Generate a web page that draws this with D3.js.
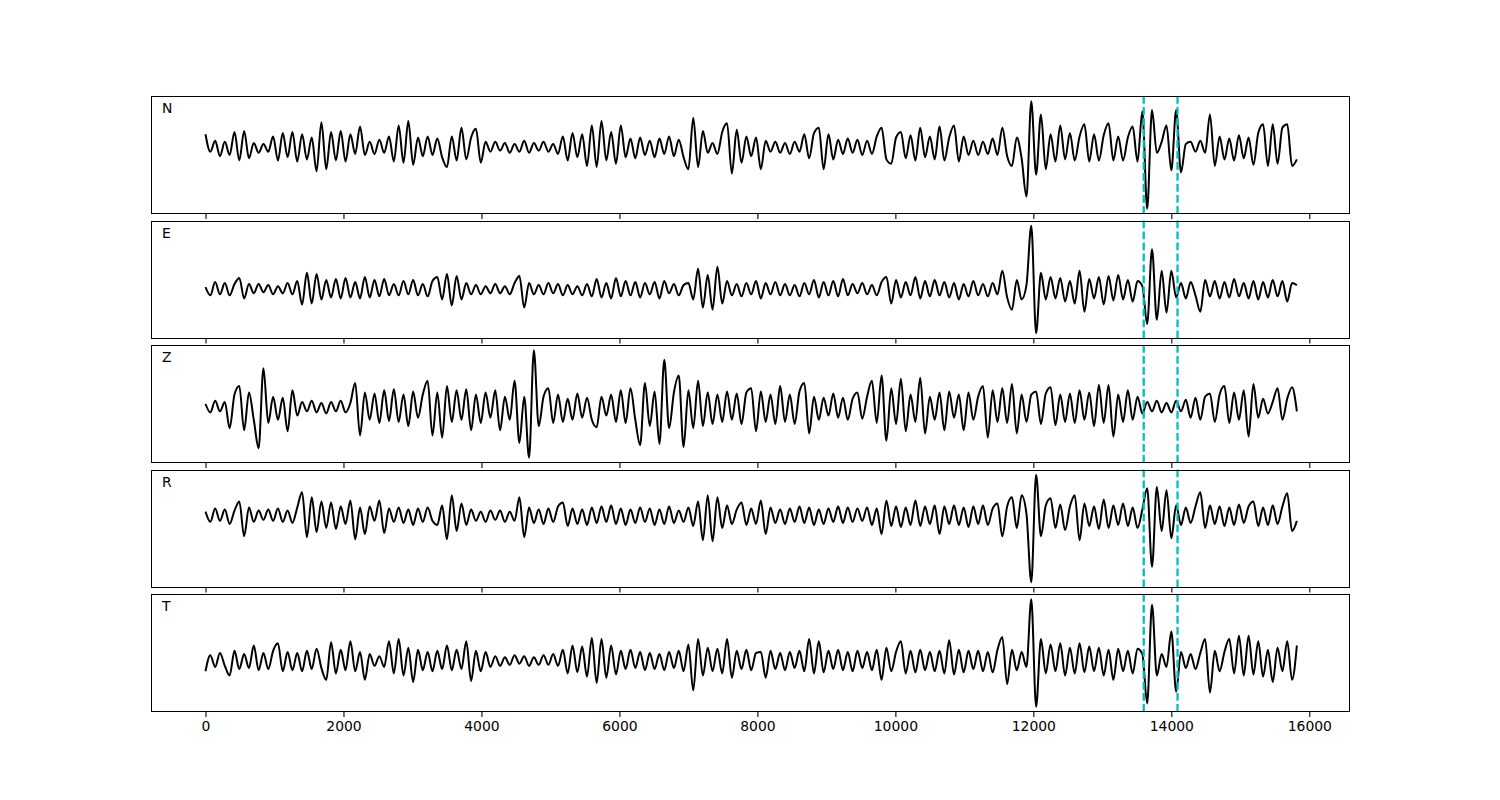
<!DOCTYPE html>
<html><head><meta charset="utf-8">
<script src="https://cdn.jsdelivr.net/npm/d3@7"></script>
<style>body{margin:0;background:#fff} svg{display:block}</style>
</head><body>
<svg id="chart" width="1500" height="800"></svg>
<script>
// ---- data ----
const componentNames = ["N", "E", "Z", "R", "T"];
const sampleStep = 70;             // sample interval (x units)
const pickTimes = [13600, 14090];  // dashed markers
const xTickValues = [0, 2000, 4000, 6000, 8000, 10000, 12000, 14000, 16000];

const traceN = [
 12,-4,6,-8,5,-7,14,-12,15,-10,
 4,-5,3,-4,10,-12,13,-9,14,-13,
 12,-11,9,-22,23,-20,14,-12,15,-13,
 12,-6,19,-7,5,-6,7,-5,10,-13,
 20,-14,24,-16,9,-8,10,-7,8,-9,
 -18,10,-12,18,-11,9,17,-14,5,-4,
 5,-3,4,-5,3,-4,6,-5,4,-3,
 5,-4,3,-6,10,-12,13,-9,12,-17,
 20,-18,24,-12,14,-15,20,-9,8,-10,
 9,-7,6,-9,8,-6,10,-8,7,-9,
 -20,27,-18,15,-5,4,-6,14,22,-24,
 16,-14,10,-8,9,-20,6,-4,5,-5,
 4,-6,5,-4,12,-10,13,18,-20,12,
 -11,7,-6,8,-5,7,-7,6,-6,10,
 18,-11,-15,9,14,-10,11,-12,18,-9,
 10,-11,19,-12,9,20,-13,10,-7,6,
 -7,5,-6,8,-7,18,-8,-17,9,-10,
 -45,42,-25,30,-20,12,-13,20,-11,13,
 -12,10,21,-13,12,-12,11,22,-12,10,
 -12,9,19,-13,33,-56,34,-5,5,20,
 -21,34,-23,3,5,-4,6,-5,30,-17,
 10,-11,8,-12,11,-10,9,-16,13,21,
 -17,21,-15,18,21,-17,-11
];
const traceE = [
 2,-6,7,-5,6,-6,5,11,-9,5,
 -4,5,-3,4,-5,3,-4,6,-5,8,
 -15,16,-14,15,-10,9,-8,10,-9,11,
 -8,7,-9,12,-8,9,-7,10,-6,5,
 -6,8,-5,9,-6,5,-7,8,12,-10,
 15,-16,13,-10,6,-5,4,-5,3,-4,
 5,-4,3,-5,6,13,-18,6,-5,4,
 -5,6,-4,5,-6,4,-5,3,-6,5,
 -7,10,-8,6,-9,11,-7,8,-6,7,
 -8,6,-5,7,-9,8,-4,5,-6,4,
 6,-10,20,-18,14,-20,22,-14,8,-6,
 5,-7,6,-5,8,-9,6,-5,7,-6,
 5,-6,4,-7,6,-5,9,-8,7,-6,
 8,-7,10,-6,5,-4,6,-5,4,-6,
 7,12,-14,9,-8,7,-6,12,-9,8,
 -7,9,-6,7,-8,6,-10,5,-7,8,
 -6,5,-7,6,-5,18,-8,-20,9,-10,
 4,62,-43,16,-10,12,-9,11,-12,8,
 -14,18,-22,10,-9,12,-15,13,-11,14,
 -10,9,-12,8,3,-34,39,-30,18,-23,
 18,-8,6,-9,7,-6,-22,9,-7,8,
 -9,7,-8,10,-7,6,-9,8,-10,7,
 -8,9,-7,8,-12,6,4
];
const traceZ = [
 3,-5,6,-4,5,-20,12,20,-22,14,
 -12,-39,37,-15,10,-12,9,-23,16,-8,
 5,-4,6,-5,4,-6,5,-4,6,-5,
 4,23,-27,14,-12,13,-15,16,-13,17,
 -14,12,-18,15,-10,12,25,-27,14,-29,
 20,-14,16,-12,17,-22,12,-15,14,-10,
 16,-22,10,-12,25,-34,10,-48,54,-18,
 10,18,-15,12,-14,8,-12,13,-10,9,
 -12,-19,10,-8,12,-14,16,-15,18,-12,
 -36,23,-18,15,-35,45,-20,14,30,-38,
 16,-20,25,-18,14,-16,12,-14,15,-12,
 13,-16,14,18,-23,15,-14,12,-16,20,
 -14,12,-16,15,23,-25,10,-12,9,-8,
 13,-10,9,-12,8,14,-11,10,25,-15,
 30,-32,18,-16,27,-23,12,-14,28,-25,
 10,-12,14,-22,15,-10,12,-22,14,-12,
 10,20,-29,16,-14,18,-15,22,-25,12,
 -14,12,15,-16,13,19,-17,12,-14,13,
 -15,16,-12,14,-18,21,-15,21,-28,12,
 -14,16,-12,10,-6,5,-4,6,-5,4,
 -5,6,-4,7,-10,9,-12,10,13,-14,
 12,20,-15,14,-12,16,-28,22,-10,8,
 -6,5,18,-12,8,19,-4
];
const traceR = [
 4,-6,7,-5,6,-8,5,14,-20,8,
 -6,5,-4,6,-5,7,-6,5,-7,8,
 23,-21,18,-16,14,-12,13,-13,9,-8,
 15,-23,8,-18,9,-5,15,-17,7,-6,
 8,-7,6,-9,7,-6,8,-5,-9,10,
 -23,20,-15,12,-9,6,-5,4,-6,5,
 -4,5,-6,4,-5,18,-21,8,-7,6,
 -8,7,-6,9,13,-10,7,-8,6,-9,
 8,-7,9,-6,10,-8,7,-9,6,-7,
 8,-6,7,-9,6,-8,9,-7,5,-6,
 8,-10,14,-24,20,-25,18,-12,10,-8,
 6,13,-9,7,-8,15,-18,8,-7,6,
 -8,7,-6,9,-7,8,-9,6,-8,7,
 -6,9,-7,8,-6,7,-5,8,-9,7,
 -18,15,-10,9,-11,8,-9,15,-10,9,
 -8,10,-18,9,-8,10,-9,8,-11,9,
 -8,10,-9,7,12,-20,9,18,-12,20,
 2,-65,40,-20,10,17,-12,11,-14,9,
 20,-24,12,-10,9,-13,16,-12,10,-9,
 12,-10,8,-12,6,27,-50,28,-15,25,
 -22,10,-9,8,-7,9,23,-12,10,-8,
 9,-10,8,-9,11,-7,9,14,-10,8,
 -9,10,-8,9,22,-15,-5
];
const traceT = [
 -10,5,-6,7,-5,-14,9,-8,6,-7,
 14,-9,7,-8,9,16,-10,8,-9,7,
 -10,9,-8,11,-7,-18,17,-12,10,-9,
 18,-10,8,-18,6,-5,4,-6,18,-12,
 20,-14,12,-20,10,-9,8,-10,9,-8,
 14,-9,10,-8,18,-19,9,-10,8,-6,
 4,-5,3,-4,5,-3,4,-5,3,-4,
 5,-4,6,-5,10,-12,14,-11,13,-15,
 21,-21,20,-16,14,-13,9,-8,10,-7,
 8,-9,7,-8,6,-9,8,-7,9,-10,
 15,-28,20,-14,12,-10,11,-12,20,-16,
 9,-8,10,-9,7,8,-16,9,-8,7,
 -9,8,-7,9,-10,20,-12,18,-11,9,
 -8,10,-9,8,-10,9,-7,8,-9,10,
 -18,12,-10,8,18,-12,9,-11,10,-9,
 8,-10,9,-12,19,-13,10,-11,9,-8,
 9,-10,8,-11,10,22,-22,10,-9,8,
 -6,57,-43,20,-12,15,-10,16,-14,12,
 -12,16,-11,13,-10,12,-14,10,-18,11,
 -10,9,-12,11,6,-40,52,-14,6,-6,
 27,-29,8,-7,6,-8,7,20,-30,9,
 -10,8,20,-12,23,-14,23,-13,18,-15,
 10,-20,12,-10,18,-18,14
];
const traces = [traceN, traceE, traceZ, traceR, traceT];

// ---- layout ----
const W = 1500, H = 800;
const left = 151, right = 1350;
const firstTop = 96, panelH = 118, pitch = 124.5;
const font = "'DejaVu Sans', 'Liberation Sans', sans-serif";

const svg = d3.select("#chart");
svg.append("rect").attr("width", W).attr("height", H).attr("fill", "#fff");

const x = d3.scaleLinear().domain([-790, 16590]).range([left, right]);

traces.forEach((vals, k) => {
  const top = firstTop + k * pitch;
  const ext = d3.extent(vals);
  const pad = (ext[1] - ext[0]) * 0.05;
  const y = d3.scaleLinear().domain([ext[0] - pad, ext[1] + pad]).range([top + panelH, top]);
  const g = svg.append("g");

  const clipId = "clip" + k;
  svg.append("clipPath").attr("id", clipId).append("rect")
    .attr("x", left).attr("y", top).attr("width", right - left).attr("height", panelH);

  const line = d3.line()
    .x((d, i) => x(i * sampleStep))
    .y(d => y(d))
    .curve(d3.curveMonotoneX);

  g.append("path")
    .datum(vals)
    .attr("clip-path", `url(#${clipId})`)
    .attr("d", line)
    .attr("fill", "none")
    .attr("stroke", "#000")
    .attr("stroke-width", 2)
    .attr("stroke-linejoin", "round");

  g.selectAll("line.pick").data(pickTimes).enter().append("line")
    .attr("class", "pick")
    .attr("x1", d => x(d)).attr("x2", d => x(d))
    .attr("y1", top).attr("y2", top + panelH)
    .attr("stroke", "#00BFBF")
    .attr("stroke-width", 2.3)
    .attr("stroke-dasharray", "7.7,3.3");

  // frame
  g.append("rect")
    .attr("x", left + 0.5).attr("y", top + 0.5)
    .attr("width", right - left - 1).attr("height", panelH - 1)
    .attr("fill", "none").attr("stroke", "#000").attr("stroke-width", 1)
    .attr("shape-rendering", "crispEdges");

  const axis = d3.axisBottom(x).tickValues(xTickValues).tickSize(4.9).tickPadding(4.5)
    .tickFormat(k === traces.length - 1 ? d3.format("d") : () => "");
  const ax = g.append("g").attr("transform", `translate(0,${top + panelH})`).call(axis);
  ax.select(".domain").remove();
  ax.selectAll(".tick line").attr("stroke", "#000").attr("stroke-width", 1.1);
  ax.selectAll(".tick text").attr("font-family", font).attr("font-size", 13.9).attr("fill", "#000");

  g.append("text")
    .attr("x", 162).attr("y", top + 17)
    .attr("font-family", font).attr("font-size", 13.9).attr("fill", "#000")
    .text(componentNames[k]);
});
</script>
</body></html>
